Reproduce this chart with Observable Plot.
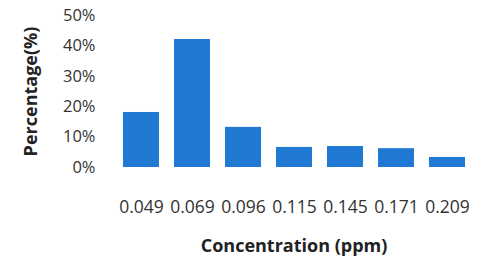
<!DOCTYPE html>
<html>
<head>
<meta charset="utf-8">
<script src="https://cdn.jsdelivr.net/npm/d3@7"></script>
<script src="https://cdn.jsdelivr.net/npm/@observablehq/plot@0.6"></script>
<style>
  html, body { margin: 0; padding: 0; background: #fff; }
</style>
</head>
<body>
<div id="chart"></div>
<script>
const categories = ["0.049", "0.069", "0.096", "0.115", "0.145", "0.171", "0.209"];
const values = [18.1, 42.1, 13.2, 6.6, 6.9, 6.2, 3.3];
const yTicks = [0, 10, 20, 30, 40, 50];

const data = categories.map((c, i) => ({ c, v: values[i] }));

const chart = Plot.plot({
  width: 480,
  height: 260,
  marginLeft: 112,
  marginRight: 5,
  marginTop: 15,
  marginBottom: 93,
  style: { fontFamily: "'Open Sans', sans-serif", color: "#333", background: "#fff" },
  x: { domain: categories, paddingInner: 0.3, paddingOuter: 0.15 },
  y: { domain: [0, 50] },
  marks: [
    Plot.barY(data, { x: "c", y: "v", fill: "#2079d3" }),
    Plot.axisX({
      tickSize: 0, tickPadding: 33, fontSize: 17.5,
      label: "Concentration (ppm)", labelAnchor: "center", labelArrow: "none", labelOffset: 84
    }),
    Plot.axisY({
      ticks: yTicks, tickSize: 0, tickPadding: 17, fontSize: 16.5,
      tickFormat: d => d + "%",
      label: "Percentage(%)", labelAnchor: "center", labelArrow: "none", labelOffset: 88
    })
  ]
});
document.getElementById("chart").appendChild(chart);
d3.select(chart).selectAll("[aria-label='x-axis label'] text, [aria-label='y-axis label'] text")
  .style("font-weight", "700").style("font-size", "18px").style("fill", "#222");
</script>
</body>
</html>
